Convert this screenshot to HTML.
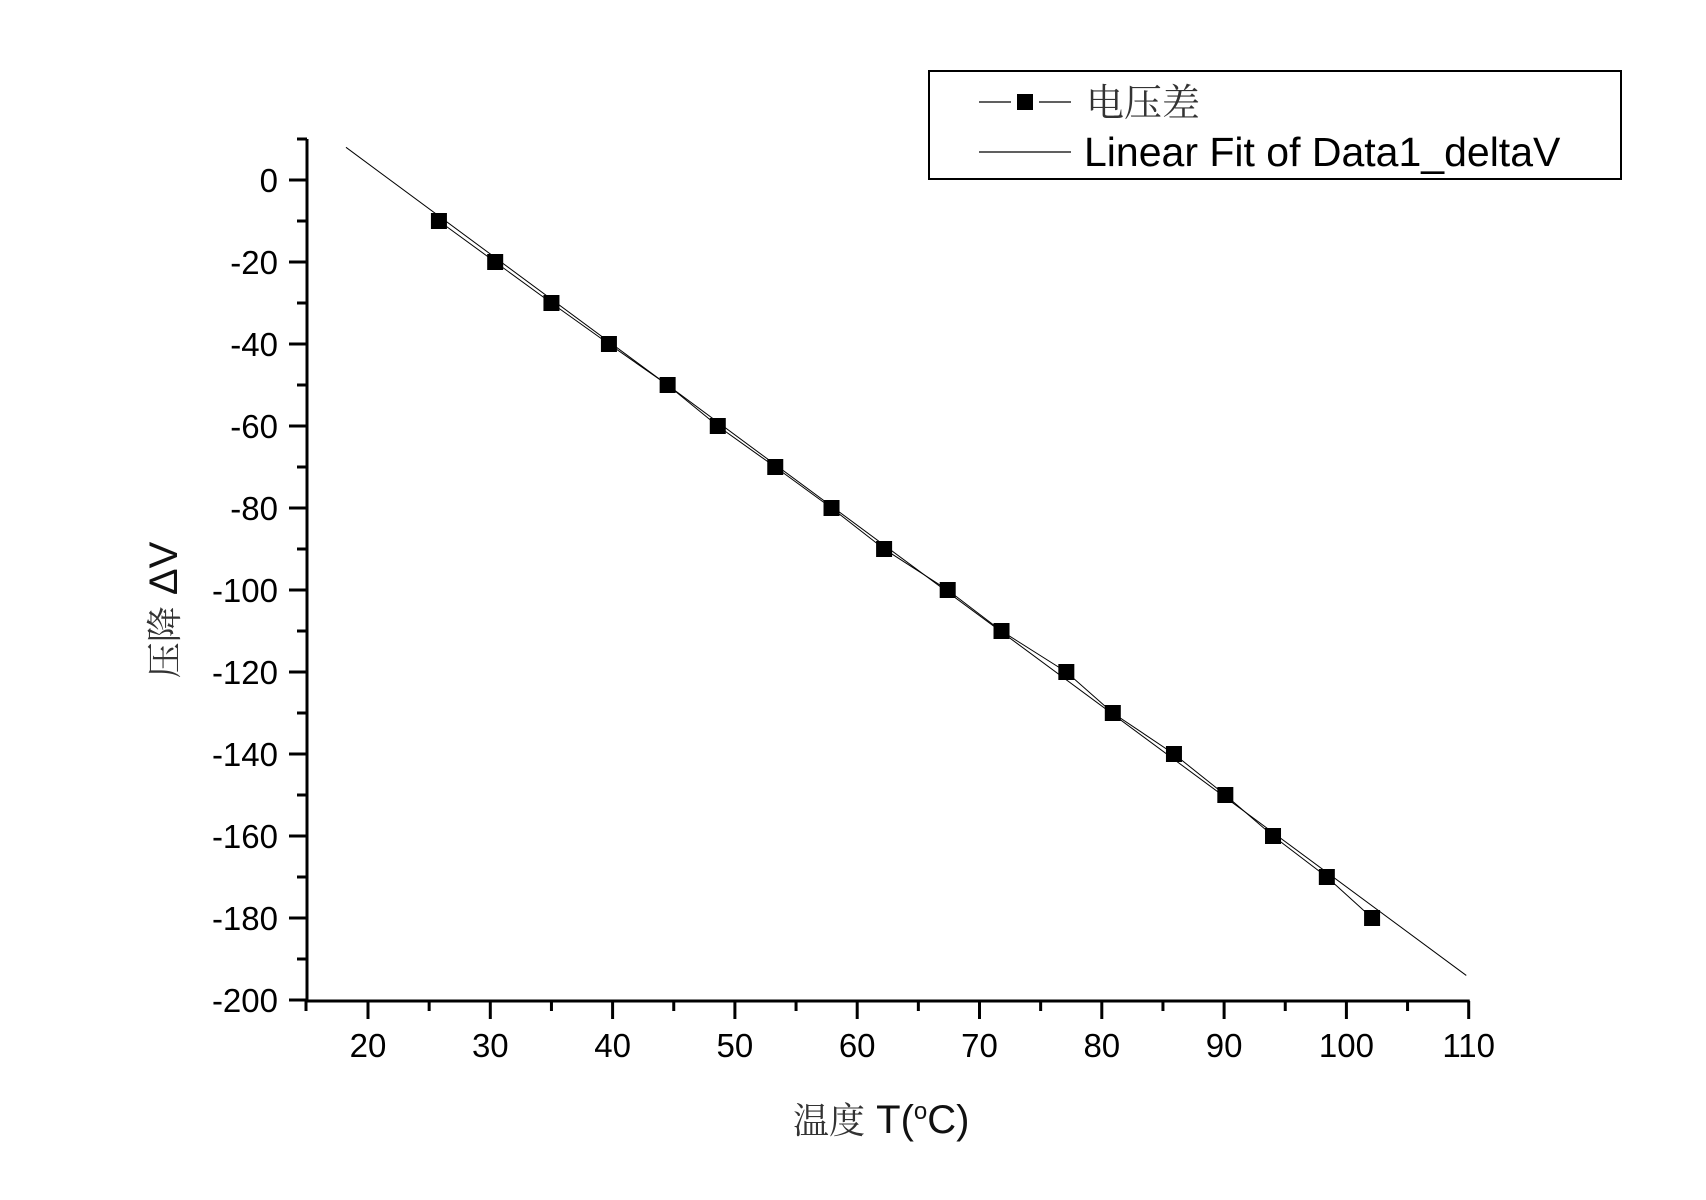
<!DOCTYPE html>
<html><head><meta charset="utf-8"><style>body{margin:0;background:#fff}svg{display:block}</style></head>
<body>
<svg id="chart" width="1706" height="1200" xmlns="http://www.w3.org/2000/svg" font-family="Liberation Sans, Noto Sans CJK SC, sans-serif">
<rect width="1706" height="1200" fill="#fff"/>
<g id="axes"></g>
<g id="series"></g>
<g>
<rect x="929" y="71" width="692" height="108" fill="#fff" stroke="#000" stroke-width="2"/>
<line x1="979" y1="102" x2="1011" y2="102" stroke="#000" stroke-width="1.2"/>
<line x1="1039" y1="102" x2="1071" y2="102" stroke="#000" stroke-width="1.2"/>
<rect x="1017" y="94" width="16" height="16" fill="#000"/>
<text x="1086" y="116" font-size="38" font-family="Noto Serif CJK SC, serif" fill="#333">电压差</text>
<line x1="979" y1="152" x2="1071" y2="152" stroke="#000" stroke-width="1.2"/>
<text x="1084" y="166" font-size="41">Linear Fit of Data1_deltaV</text>
</g>
<text x="793" y="1133" font-size="40" fill="#111"><tspan font-family="Noto Serif CJK SC, serif" font-size="36" fill="#333">温度</tspan> T(<tspan font-size="24" dy="-14">o</tspan><tspan dy="14">C)</tspan></text>
<text transform="translate(177,610) rotate(-90)" font-size="40" text-anchor="middle" fill="#111"><tspan font-family="Noto Serif CJK SC, serif" font-size="36" fill="#333">压降</tspan> ΔV</text>
</svg>
<script>
const xs=[25.8,30.4,35,39.7,44.5,48.6,53.3,57.9,62.2,67.4,71.8,77.1,80.9,85.9,90.1,94,98.4,102.1];
const ys=[-10,-20,-30,-40,-50,-60,-70,-80,-90,-100,-110,-120,-130,-140,-150,-160,-170,-180];
const xTicks=[20,30,40,50,60,70,80,90,100,110];
const yTicks=[0,-20,-40,-60,-80,-100,-120,-140,-160,-180,-200];
const fitSlope=[-2.205];
const fitIntercept=[48.1];
const fitRange=[18.2,109.8];
const NS="http://www.w3.org/2000/svg";
const X=v=>368+(v-20)*12.23;
const Y=v=>180-v*4.1;
function mk(t,a,p){const e=document.createElementNS(NS,t);for(const k in a)e.setAttribute(k,a[k]);p.appendChild(e);return e;}
const ax=document.getElementById('axes'),se=document.getElementById('series');
let l=mk('line',{x1:307,y1:139,x2:307,y2:1001,stroke:'#000','stroke-width':3},ax);


l=mk('line',{x1:306,y1:1001,x2:X(110)+1,y2:1001,stroke:'#000','stroke-width':3},ax);


for(let v=0;v>=-200;v-=10){const maj=v%20===0;mk('line',{x1:maj?289:297,y1:Y(v),x2:307,y2:Y(v),stroke:'#000','stroke-width':3},ax);}
mk('line',{x1:297,y1:Y(10),x2:307,y2:Y(10),stroke:'#000','stroke-width':3},ax);
yTicks.forEach(v=>{const t=mk('text',{x:278,y:Y(v)+12,'font-size':33,'text-anchor':'end'},ax);t.textContent=v;

});
mk('line',{x1:306,y1:1001,x2:306,y2:1011,stroke:'#000','stroke-width':3},ax);
for(let v=20;v<=110;v+=5){const maj=v%10===0;mk('line',{x1:X(v),y1:1001,x2:X(v),y2:maj?1019:1011,stroke:'#000','stroke-width':3},ax);}
xTicks.forEach(v=>{const t=mk('text',{x:X(v),y:1057,'font-size':33,'text-anchor':'middle'},ax);t.textContent=v;

});
l=mk('line',{x1:X(fitRange[0]),y1:Y(fitSlope[0]*fitRange[0]+fitIntercept[0]),x2:X(fitRange[1]),y2:Y(fitSlope[0]*fitRange[1]+fitIntercept[0]),stroke:'#000','stroke-width':1},se);


const pl=mk('polyline',{points:xs.map((x,i)=>X(x)+','+Y(ys[i])).join(' '),fill:'none',stroke:'#000','stroke-width':1},se);


xs.forEach((x,i)=>{const r=mk('rect',{x:X(x)-8,y:Y(ys[i])-8,width:16,height:16,fill:'#000'},se);

});
</script>
</body></html>
